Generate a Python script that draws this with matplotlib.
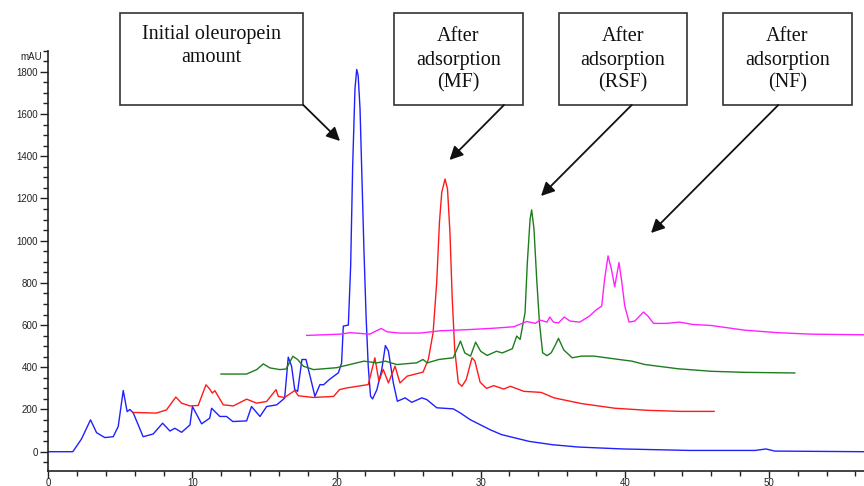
import numpy as np
import matplotlib
matplotlib.use('Agg')
import matplotlib.pyplot as plt
from matplotlib.patches import Rectangle, FancyArrowPatch
from matplotlib.ticker import MultipleLocator

# === chromatogram traces (retention time min, absorbance mAU) ===
t_initial = [0, 1.7, 2.3, 2.93, 3.35, 3.92, 4.5, 4.85, 5.2, 5.47, 5.66, 5.9, 6.58, 7.28,
             7.93, 8.44, 8.78, 9.25, 9.83, 10.0, 10.64, 11.2, 11.33, 11.9, 12.37, 12.8,
             13.76, 14.1, 14.69, 15.15, 15.85, 16.4, 16.65, 16.88, 17.1, 17.3, 17.6,
             17.88, 18.28, 18.5, 18.85, 19.1, 19.5, 20.13, 20.35, 20.47, 20.82, 20.98,
             21.12, 21.28, 21.4, 21.5, 21.63, 21.74, 21.9, 22.05, 22.2, 22.36, 22.5,
             22.8, 23.14, 23.39, 23.6, 23.94, 24.22, 24.76, 25.22, 25.92, 26.26, 26.96,
             28.1, 28.58, 29.27, 30.66, 31.45, 33.36, 35.0, 36.8, 39.87, 44.46, 49.05,
             49.8, 50.4, 56.6]
a_initial = [0, 0, 60, 151, 90, 67, 71, 119, 290, 190, 200, 183, 71, 84,
             135, 98, 111, 92, 127, 214, 132, 159, 206, 167, 167, 143,
             146, 214, 167, 214, 222, 254, 448, 405, 294, 286, 437,
             437, 325, 262, 318, 317, 342, 374, 420, 595, 600, 880,
             1355, 1720, 1811, 1783, 1625, 1355, 960, 643, 405, 263, 250,
             294, 390, 503, 477, 326, 239, 255, 234, 255, 247, 208,
             203, 184, 152, 104, 81, 49, 33, 22, 13, 6, 6,
             13, 3, 0]

t_mf = [5.89, 7.5, 8.2, 8.85, 9.25, 9.83, 10.4, 10.94, 11.2, 11.38, 11.56, 12.14, 12.84,
        13.76, 14.46, 15.15, 15.8, 15.96, 16.4, 17.1, 17.35, 18.39, 19.8, 20.2, 20.7,
        22.2, 22.66, 22.94, 23.24, 23.6, 24.06, 24.4, 24.9, 26.0, 26.37, 26.7, 26.95,
        27.14, 27.3, 27.53, 27.7, 27.87, 28.03, 28.2, 28.45, 28.7, 29.0, 29.4, 29.6,
        29.96, 30.4, 30.9, 31.6, 32.06, 33.0, 34.2, 35.1, 37.0, 39.3, 41.6, 43.9, 46.2]
a_mf = [186, 183, 198, 259, 230, 217, 219, 317, 297, 278, 289, 222, 217,
        249, 230, 238, 294, 262, 257, 290, 265, 257, 262, 294, 302,
        318, 445, 334, 390, 326, 405, 326, 358, 377, 437, 564, 801,
        1086, 1229, 1292, 1245, 1039, 722, 485, 326, 310, 342, 445, 430,
        330, 300, 313, 297, 310, 286, 281, 255, 228, 206, 196, 191, 191]

t_rsf = [11.98, 13.76, 14.46, 14.92, 15.38, 16.07, 16.5, 16.97, 17.3, 17.7, 18.4, 20.0,
         21.9, 22.8, 23.4, 24.17, 25.56, 26.0, 26.3, 27.1, 28.1, 28.6, 28.9, 29.3,
         29.65, 30.0, 30.45, 31.1, 31.5, 32.2, 32.5, 32.74, 33.08, 33.24, 33.43, 33.54,
         33.7, 33.89, 34.08, 34.3, 34.6, 34.9, 35.2, 35.4, 35.77, 36.35, 37.0, 37.86,
         39.6, 40.5, 41.4, 43.7, 46.0, 48.3, 51.8]
a_rsf = [368, 368, 389, 416, 397, 389, 392, 452, 437, 405, 389, 398,
         429, 421, 429, 413, 421, 437, 421, 437, 445, 524, 468, 453,
         519, 476, 456, 476, 468, 488, 548, 532, 659, 896, 1102, 1146,
         1055, 817, 611, 469, 455, 469, 508, 537, 482, 445, 453, 453,
         437, 429, 413, 393, 381, 376, 373]

t_nf = [17.93, 20.25, 20.95, 22.3, 23.1, 23.5, 24.4, 25.8, 27.2, 29.0, 30.9, 32.3,
        33.2, 33.8, 34.1, 34.6, 34.8, 35.05, 35.4, 35.8, 36.2, 36.87, 37.56, 38.0,
        38.4, 38.6, 38.84, 39.07, 39.3, 39.6, 39.8, 40.0, 40.3, 40.7, 41.3, 41.6,
        42.0, 42.9, 43.8, 44.7, 46.0, 48.3, 50.6, 52.9, 56.6]
a_nf = [551, 557, 564, 557, 584, 568, 562, 562, 573, 578, 585, 592,
        617, 608, 624, 614, 638, 614, 610, 638, 619, 614, 643, 671,
        690, 817, 928, 866, 782, 896, 801, 690, 614, 619, 662, 643,
        608, 608, 614, 603, 598, 576, 564, 557, 554]

# box labels (figure pixels are layout, kept in the drawing section)
box_lines = [["Initial oleuropein", "amount"],
             ["After", "adsorption", "(MF)"],
             ["After", "adsorption", "(RSF)"],
             ["After", "adsorption", "(NF)"]]

W, H = 864, 486
fig = plt.figure(figsize=(W / 100, H / 100), dpi=100)
ax = fig.add_axes([48.3 / W, 1 - 470.7 / H, 1 - 48.3 / W, (470.7 - 50.7) / H])

ax.plot(t_initial, a_initial, color='#2020ff', lw=1.0)
ax.plot(t_mf, a_mf, color='#ff1a1a', lw=1.0)
ax.plot(t_rsf, a_rsf, color='#1e7d1e', lw=1.0)
ax.plot(t_nf, a_nf, color='#ff22ff', lw=1.0)

ax.set_xlim(0, 56.6)
ax.set_ylim(-90, 1900)
ax.spines['top'].set_visible(False)
ax.spines['right'].set_visible(False)
for s in ['left', 'bottom']:
    ax.spines[s].set_linewidth(1.2)
    ax.spines[s].set_color('#222222')

ax.xaxis.set_major_locator(MultipleLocator(10))
ax.xaxis.set_minor_locator(MultipleLocator(2))
ax.yaxis.set_major_locator(MultipleLocator(200))
ax.yaxis.set_minor_locator(MultipleLocator(50))
ax.tick_params(which='major', length=6, width=1.0, color='#222222',
               labelsize=7, pad=1.5)
ax.tick_params(axis='x', which='major', length=5, pad=0)
ax.tick_params(which='minor', length=3.5, width=1.0, color='#222222')
for lab in ax.get_xticklabels() + ax.get_yticklabels():
    lab.set_family('Liberation Sans')
    lab.set_color('#222222')

fig.text(41.7 / W, 1 - 56.7 / H, 'mAU', ha='right', va='center', fontsize=7,
         family='Liberation Sans', color='#222222')

# === annotation boxes and arrows ===
boxes = [(120, 13, 303.3, 105), (394, 13, 522.7, 105),
         (559, 13, 686.7, 105), (723.3, 13, 851.7, 105)]
line_y = {2: [35, 57], 3: [36.7, 60, 83]}
arrows = [((303.3, 105), (340, 141)), ((504, 105), (449.5, 160)),
          ((631.7, 105), (541, 196)), ((778.3, 105), (651, 233))]

for (x0, y0, x1, y1), lines in zip(boxes, box_lines):
    fig.patches.append(Rectangle((x0 / W, 1 - y1 / H), (x1 - x0) / W, (y1 - y0) / H,
                                 transform=fig.transFigure, fill=True, fc='white',
                                 ec='#333333', lw=1.2))
    for ly, txt in zip(line_y[len(lines)], lines):
        fig.text((x0 + x1) / 2 / W, 1 - ly / H, txt, ha='center', va='center',
                 fontsize=14.5, family='Liberation Serif', color='#111111')

for (p0, p1) in arrows:
    fig.patches.append(FancyArrowPatch((p0[0] / W, 1 - p0[1] / H), (p1[0] / W, 1 - p1[1] / H),
                                       transform=fig.transFigure,
                                       arrowstyle='-|>,head_length=8,head_width=4',
                                       color='#111111', lw=1.3, shrinkA=0, shrinkB=0))

plt.savefig('out.png', dpi=100)
